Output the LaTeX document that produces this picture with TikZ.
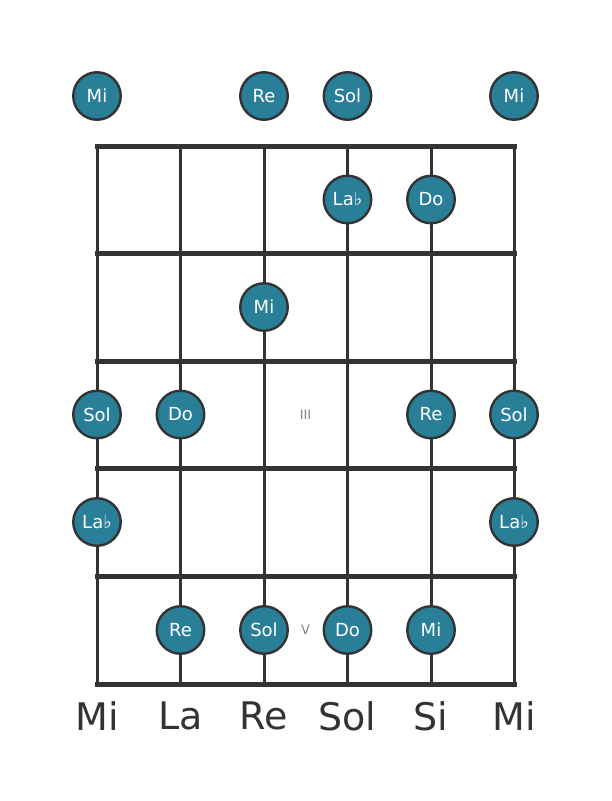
\documentclass[tikz,border=0pt]{standalone}
\usepackage{fontspec}
\setmainfont{DejaVu Sans}
\usetikzlibrary{positioning}
\definecolor{notefill}{RGB}{42,127,152}
\definecolor{wire}{RGB}{51,51,51}
\definecolor{numgray}{RGB}{130,130,130}
\tikzset{
  note/.style={circle, draw=wire, line width=2.4pt, fill=notefill,
    minimum size=47.5pt, inner sep=0pt, text=white,
    font=\fontsize{18}{18}\selectfont},
  stringline/.style={draw=wire, line width=3pt},
  fretline/.style={draw=wire, line width=5pt, line cap=rect},
  tuning/.style={text=wire, font=\fontsize{38}{38}\selectfont},
  fretnum/.style={text=numgray, font=\fontsize{13}{13}\selectfont},
}

\begin{document}
\begin{tikzpicture}[x=1pt, y=-1pt]
  \useasboundingbox (0,0) rectangle (611,801);
  % strings
  \foreach \s/\x in {1/97, 2/180.5, 3/264, 4/347.5, 5/431, 6/514} {
    \coordinate (top\s) at (\x,146);
    \coordinate (bot\s) at (\x,684);
    \draw[stringline] (top\s) -- (bot\s);
  }
  % frets
  \foreach \f/\y in {0/146, 1/253.6, 2/361, 3/468.4, 4/576, 5/684} {
    \coordinate (fl\f) at (97,\y);
    \coordinate (fr\f) at (514,\y);
    \draw[fretline] (fl\f) -- (fr\f);
  }
  % open strings
  \node[note] (o1) at (97,96) {Mi};
  \node[note] (o3) at (264,96) {Re};
  \node[note] (o4) at (347.5,96) {Sol};
  \node[note] (o6) at (514,96) {Mi};
  % fret 1
  \node[note] (a4) at (347.5,199.5) {La♭};
  \node[note] (a5) at (431,199.5) {Do};
  % fret 2
  \node[note] (b3) at (264,307) {Mi};
  % fret 3
  \node[note] (c1) at (97,414.5) {Sol};
  \node[note] (c2) at (180.5,414.5) {Do};
  \node[note] (c5) at (431,414.5) {Re};
  \node[note] (c6) at (514,414.5) {Sol};
  \node[fretnum] (III) at (305.5,414.5) {III};
  % fret 4
  \node[note] (d1) at (97,522) {La♭};
  \node[note] (d6) at (514,522) {La♭};
  % fret 5
  \node[note] (e2) at (180.5,630) {Re};
  \node[note] (e3) at (264,630) {Sol};
  \node[note] (e4) at (347.5,630) {Do};
  \node[note] (e5) at (431,630) {Mi};
  \node[fretnum] (V) at (305.5,630) {V};
  % tuning
  \foreach \s/\x/\t in {1/97/Mi, 2/180.5/La, 3/264/Re, 4/347.5/Sol, 5/431/Si, 6/514/Mi}
    \node[tuning] (t\s) at (\x,716) {\t};
\end{tikzpicture}
\end{document}
